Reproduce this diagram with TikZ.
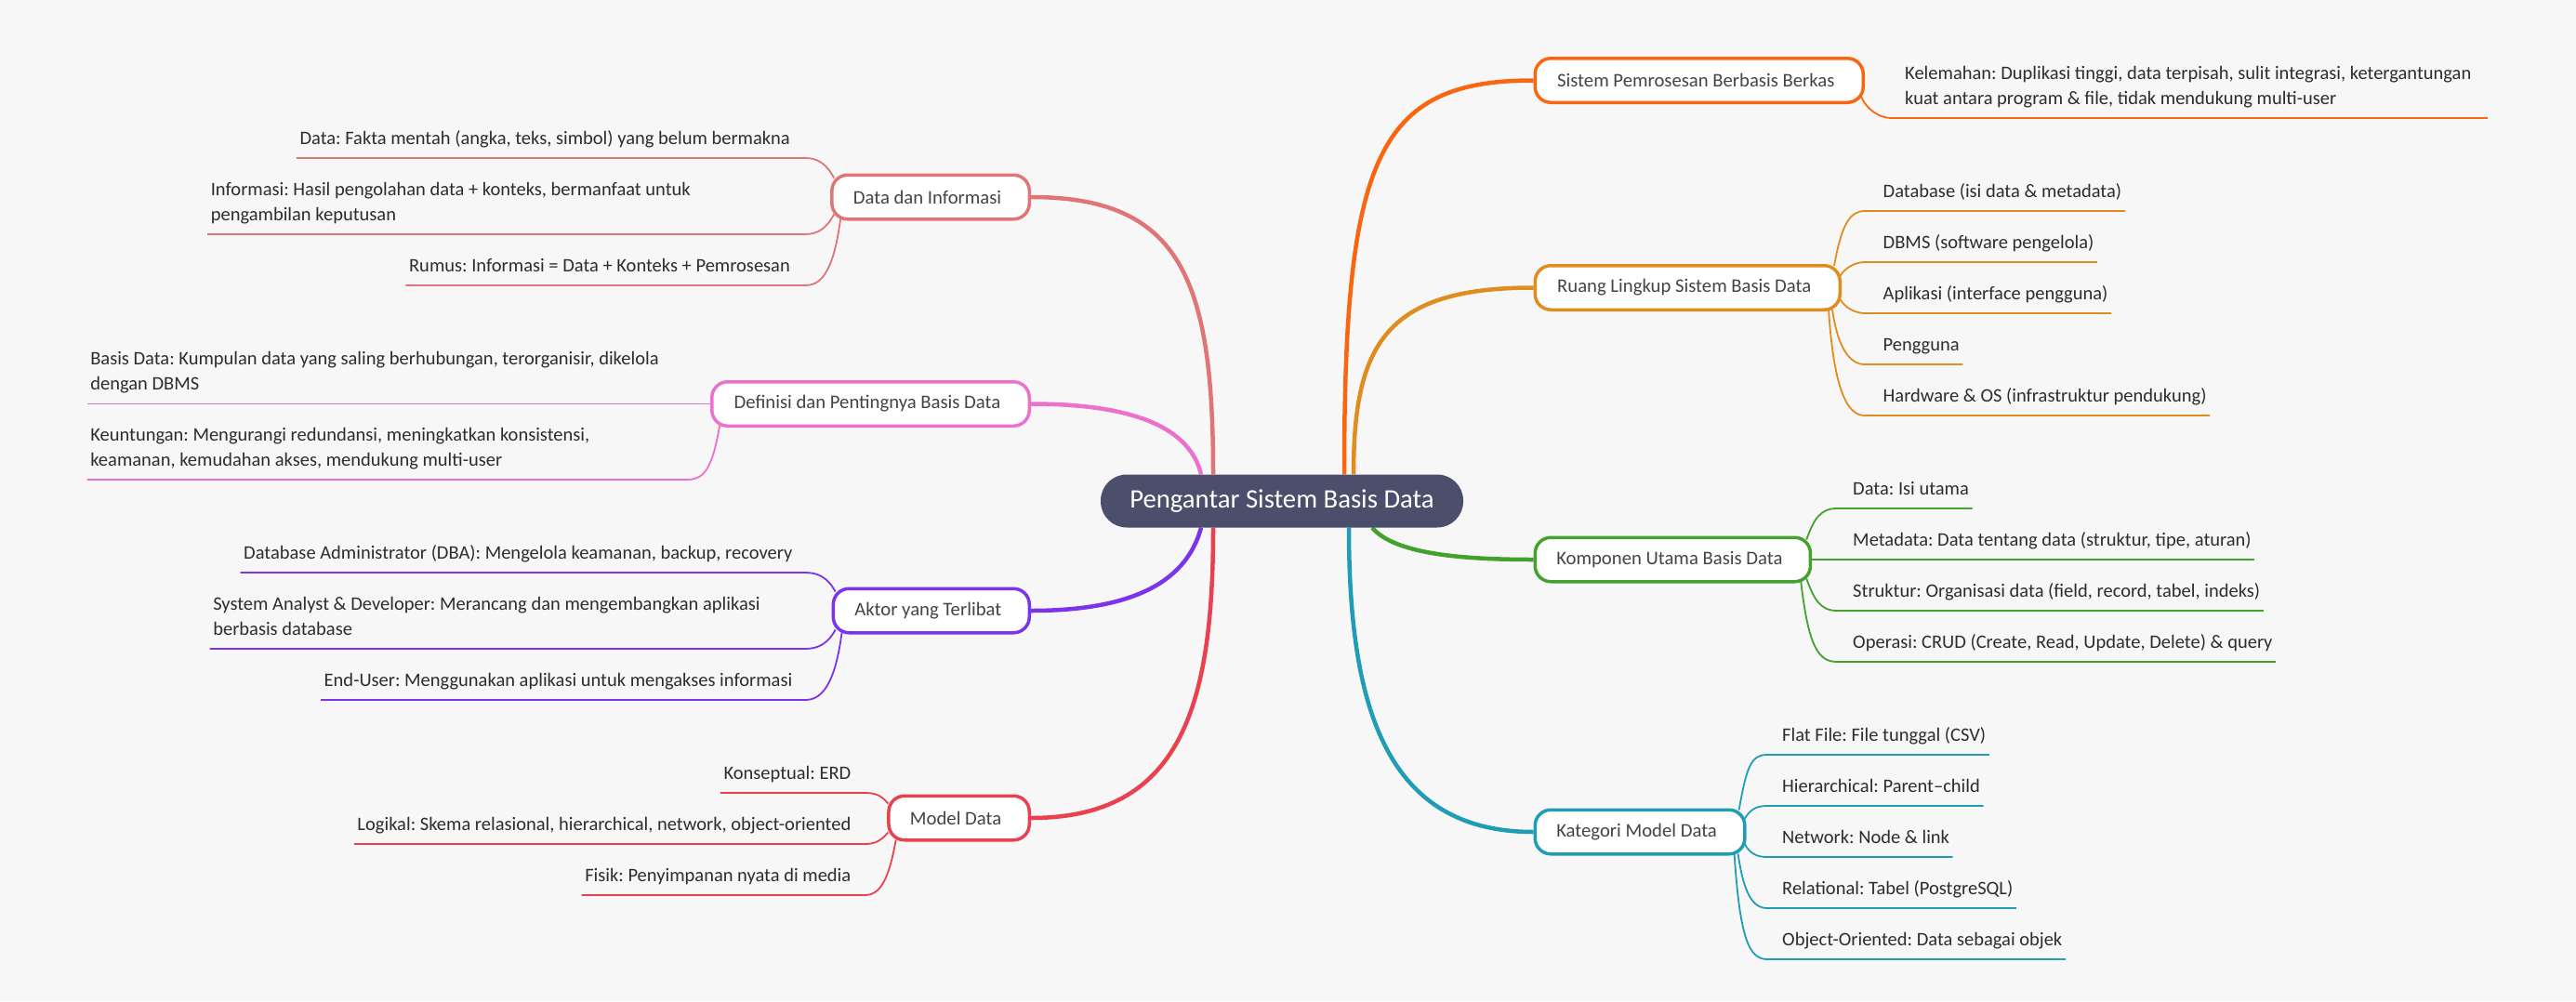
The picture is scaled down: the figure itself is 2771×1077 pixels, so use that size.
\documentclass[tikz,border=0pt]{standalone}
\usepackage{fontspec}
\setmainfont{Carlito}
\usetikzlibrary{backgrounds}
\definecolor{mybg}{RGB}{247,247,247}
\definecolor{myroot}{RGB}{76,79,107}
\definecolor{mytopictext}{RGB}{68,68,68}
\definecolor{myleaftext}{RGB}{45,45,45}
\definecolor{myorange}{RGB}{250,101,16}
\definecolor{myamber}{RGB}{224,140,31}
\definecolor{mygreen}{RGB}{67,161,46}
\definecolor{myteal}{RGB}{31,157,181}
\definecolor{mysalmon}{RGB}{224,117,117}
\definecolor{mypink}{RGB}{235,114,204}
\definecolor{mypurple}{RGB}{123,51,236}
\definecolor{myred}{RGB}{233,65,79}
\tikzset{
	rootnode/.style={fill=myroot, text=white, rounded corners=28pt, minimum height=57pt, minimum width=390pt, font=\fontsize{28.7}{36}\selectfont},
	topic/.style={draw=#1, fill=white, text=mytopictext, line width=3.5pt, rounded corners=17pt, minimum height=47.5pt, inner xsep=23pt, inner ysep=0pt, execute at end node={\hspace*{7pt}}, font=\fontsize{20.7}{27}\selectfont},
	leaf/.style={text=myleaftext, inner xsep=3.5pt, inner ysep=9.5pt, text depth=5pt, font=\fontsize{20.5}{27}\selectfont\frenchspacing},
	leafwide/.style={text=myleaftext, inner xsep=3.5pt, inner ysep=9.5pt, text width=623pt, align=flush left, font=\fontsize{20.5}{27}\selectfont\frenchspacing, execute at end node={\vrule width 0pt depth 5pt}},
	mainlink/.style={draw=#1, line width=4.5pt},
	leaflink/.style={draw=#1, line width=1.8pt}
}

\begin{document}
\begin{tikzpicture}[x=1pt, y=-1pt]
	\useasboundingbox (0,0) rectangle (2771,1077);

	% Draw the central node
	\node[rootnode] (root) at (1379,539) {Pengantar Sistem Basis Data};

	% Draw the topics on the right
	\node[topic=myorange, anchor=west, minimum width=353pt] (sistem) at (1649.5,86.5) {Sistem Pemrosesan Berbasis Berkas};
	\node[topic=myamber, anchor=west, minimum width=328pt] (ruang) at (1649.5,309.5) {Ruang Lingkup Sistem Basis Data};
	\node[topic=mygreen, anchor=west, minimum width=296pt] (komponen) at (1649.5,602) {Komponen Utama Basis Data};
	\node[topic=myteal, anchor=west, minimum width=220pt] (kategori) at (1649.5,895) {Kategori Model Data};

	% Draw the topics on the left
	\node[topic=mysalmon, anchor=east, minimum width=211.5pt] (dadan) at (1109,212) {Data dan Informasi};
	\node[topic=mypink, anchor=east, minimum width=341.5pt] (definisi) at (1109,434.5) {Definisi dan Pentingnya Basis Data};
	\node[topic=mypurple, anchor=east, minimum width=209.5pt] (aktor) at (1109,657) {Aktor yang Terlibat};
	\node[topic=myred, anchor=east, minimum width=146.5pt] (model) at (1109,880) {Model Data};

	% Label the leaves on the right
	\node[leafwide, anchor=south west] (kelemahan) at (2045.5,127) {Kelemahan: Duplikasi tinggi, data terpisah, sulit integrasi, ketergantungan\\kuat antara program \& file, tidak mendukung multi-user};

	\node[leaf, anchor=south west] (dbase) at (2022,227) {Database (isi data \& metadata)};
	\node[leaf, anchor=south west] (dbms) at (2022,282) {DBMS (software pengelola)};
	\node[leaf, anchor=south west] (aplikasi) at (2022,337) {Aplikasi (interface pengguna)};
	\node[leaf, anchor=south west] (pengguna) at (2022,392) {Pengguna};
	\node[leaf, anchor=south west] (hardware) at (2022,447) {Hardware \& OS (infrastruktur pendukung)};

	\node[leaf, anchor=south west] (isi) at (1989.5,547) {Data: Isi utama};
	\node[leaf, anchor=south west] (metadata) at (1989.5,602) {Metadata: Data tentang data (struktur, tipe, aturan)};
	\node[leaf, anchor=south west] (struktur) at (1989.5,657) {Struktur: Organisasi data (field, record, tabel, indeks)};
	\node[leaf, anchor=south west] (operasi) at (1989.5,712) {Operasi: CRUD (Create, Read, Update, Delete) \& query};

	\node[leaf, anchor=south west] (flat) at (1913.5,812) {Flat File: File tunggal (CSV)};
	\node[leaf, anchor=south west] (hier) at (1913.5,867) {Hierarchical: Parent–child};
	\node[leaf, anchor=south west] (network) at (1913.5,922) {Network: Node \& link};
	\node[leaf, anchor=south west] (relational) at (1913.5,977) {Relational: Tabel (PostgreSQL)};
	\node[leaf, anchor=south west] (objek) at (1913.5,1032) {Object-Oriented: Data sebagai objek};

	% Label the leaves on the left
	\node[leaf, anchor=south east] (fakta) at (853.5,170) {Data: Fakta mentah (angka, teks, simbol) yang belum bermakna};
	\node[leafwide, anchor=south east] (info) at (853.5,252) {Informasi: Hasil pengolahan data + konteks, bermanfaat untuk\\pengambilan keputusan};
	\node[leaf, anchor=south east] (rumus) at (853.5,307) {Rumus: Informasi = Data + Konteks + Pemrosesan};

	\node[leafwide, anchor=south east] (basis) at (724,434.5) {Basis Data: Kumpulan data yang saling berhubungan, terorganisir, dikelola\\dengan DBMS};
	\node[leafwide, anchor=south east] (untung) at (724,516) {Keuntungan: Mengurangi redundansi, meningkatkan konsistensi,\\keamanan, kemudahan akses, mendukung multi-user};

	\node[leaf, anchor=south east] (dba) at (856,616) {Database Administrator (DBA): Mengelola keamanan, backup, recovery};
	\node[leafwide, anchor=south east] (analyst) at (856,698) {System Analyst \& Developer: Merancang dan mengembangkan aplikasi\\berbasis database};
	\node[leaf, anchor=south east] (enduser) at (856,753) {End-User: Menggunakan aplikasi untuk mengakses informasi};

	\node[leaf, anchor=south east] (konsep) at (919,853) {Konseptual: ERD};
	\node[leaf, anchor=south east] (logikal) at (919,908) {Logikal: Skema relasional, hierarchical, network, object-oriented};
	\node[leaf, anchor=south east] (fisik) at (919,963) {Fisik: Penyimpanan nyata di media};

	\begin{scope}[on background layer]
		\fill[mybg] (0,0) rectangle (2771,1077);

		% Draw the thick curves from the central node
		\draw[mainlink=myorange] ([xshift=67pt]root.north) .. controls +(0,-340) and +(-169,0) .. (sistem.west);
		\draw[mainlink=myamber] ([xshift=77pt]root.north) .. controls +(0,-140) and +(-159,0) .. (ruang.west);
		\draw[mainlink=mygreen] ([xshift=97pt]root.south) .. controls +(24,28) and +(-79,0) .. (komponen.west);
		\draw[mainlink=myteal] ([xshift=72pt]root.south) .. controls +(0,193) and +(-159,0) .. (kategori.west);
		\draw[mainlink=mysalmon] ([xshift=-74pt]root.north) .. controls +(0,-210) and +(161,0) .. (dadan.east);
		\draw[mainlink=mypink] ([xshift=-87pt]root.north) .. controls +(-12,-50) and +(111,0) .. (definisi.east);
		\draw[mainlink=mypurple] ([xshift=-87pt]root.south) .. controls +(-17,63) and +(101,0) .. (aktor.east);
		\draw[mainlink=myred] ([xshift=-74pt]root.south) .. controls +(0,193) and +(161,0) .. (model.east);

		% Draw the thin curves and the lines under the leaves, right side
		\draw[leaflink=myorange] ([xshift=-4pt,yshift=8pt]sistem.south east) .. controls +(6,14) and +(-12,0) .. ([xshift=-11.5pt]kelemahan.south west) -- (kelemahan.south east);

		\draw[leaflink=myamber] ([xshift=-8pt,yshift=-2pt]ruang.north east) .. controls +(8,-45) and +(-16,0) .. ([xshift=-16pt]dbase.south west) -- (dbase.south east);
		\draw[leaflink=myamber] ([xshift=-2pt,yshift=12pt]ruang.east) .. controls +(6,-10) and +(-10,0) .. ([xshift=-16pt]dbms.south west) -- (dbms.south east);
		\draw[leaflink=myamber] ([xshift=-2pt,yshift=-12pt]ruang.east) .. controls +(6,10) and +(-10,0) .. ([xshift=-16pt]aplikasi.south west) -- (aplikasi.south east);
		\draw[leaflink=myamber] ([xshift=-10pt,yshift=2pt]ruang.south east) .. controls +(6,42) and +(-16,0) .. ([xshift=-16pt]pengguna.south west) -- (pengguna.south east);
		\draw[leaflink=myamber] ([xshift=-14pt,yshift=2pt]ruang.south east) .. controls +(6,90) and +(-18,0) .. ([xshift=-16pt]hardware.south west) -- (hardware.south east);

		\draw[leaflink=mygreen] ([xshift=-6pt,yshift=-4pt]komponen.north east) .. controls +(8,-22) and +(-18,0) .. ([xshift=-13.5pt]isi.south west) -- (isi.south east);
		\draw[leaflink=mygreen] (komponen.east) -- (metadata.south west) -- (metadata.south east);
		\draw[leaflink=mygreen] ([xshift=-6pt,yshift=5pt]komponen.south east) .. controls +(8,22) and +(-18,0) .. ([xshift=-13.5pt]struktur.south west) -- (struktur.south east);
		\draw[leaflink=mygreen] ([xshift=-12pt,yshift=2pt]komponen.south east) .. controls +(8,70) and +(-20,0) .. ([xshift=-13.5pt]operasi.south west) -- (operasi.south east);

		\draw[leaflink=myteal] ([xshift=-8pt,yshift=-2pt]kategori.north east) .. controls +(8,-45) and +(-18,0) .. ([xshift=-12.5pt]flat.south west) -- (flat.south east);
		\draw[leaflink=myteal] ([xshift=-2pt,yshift=14pt]kategori.east) .. controls +(6,-10) and +(-12,0) .. ([xshift=-12.5pt]hier.south west) -- (hier.south east);
		\draw[leaflink=myteal] ([xshift=-2pt,yshift=-13pt]kategori.east) .. controls +(6,10) and +(-12,0) .. ([xshift=-12.5pt]network.south west) -- (network.south east);
		\draw[leaflink=myteal] ([xshift=-9pt,yshift=2pt]kategori.south east) .. controls +(6,42) and +(-16,0) .. ([xshift=-12.5pt]relational.south west) -- (relational.south east);
		\draw[leaflink=myteal] ([xshift=-13pt,yshift=2pt]kategori.south east) .. controls +(6,90) and +(-20,0) .. ([xshift=-12.5pt]objek.south west) -- (objek.south east);

		% Draw the thin curves and the lines under the leaves, left side
		\draw[leaflink=mysalmon] ([xshift=4pt,yshift=-5pt]dadan.north west) .. controls +(-8,-15) and +(14,0) .. ([xshift=12.5pt]fakta.south east) -- (fakta.south west);
		\draw[leaflink=mysalmon] ([xshift=4pt,yshift=7pt]dadan.south west) .. controls +(-8,15) and +(14,0) .. ([xshift=12.5pt]info.south east) -- (info.south west);
		\draw[leaflink=mysalmon] ([xshift=11pt,yshift=2pt]dadan.south west) .. controls +(-8,60) and +(16,0) .. ([xshift=12.5pt]rumus.south east) -- (rumus.south west);

		\draw[leaflink=mypink] (definisi.west) -- (basis.south east) -- (basis.south west);
		\draw[leaflink=mypink] ([xshift=10pt,yshift=2pt]definisi.south west) .. controls +(-8,50) and +(16,0) .. ([xshift=15pt]untung.south east) -- (untung.south west);

		\draw[leaflink=mypurple] ([xshift=4pt,yshift=-5pt]aktor.north west) .. controls +(-8,-15) and +(14,0) .. ([xshift=10pt]dba.south east) -- (dba.south west);
		\draw[leaflink=mypurple] ([xshift=4pt,yshift=5pt]aktor.south west) .. controls +(-8,15) and +(14,0) .. ([xshift=10pt]analyst.south east) -- (analyst.south west);
		\draw[leaflink=mypurple] ([xshift=11pt,yshift=2pt]aktor.south west) .. controls +(-8,60) and +(16,0) .. ([xshift=10pt]enduser.south east) -- (enduser.south west);

		\draw[leaflink=myred] ([xshift=1pt,yshift=-10pt]model.north west) .. controls +(-8,-10) and +(10,0) .. ([xshift=11pt]konsep.south east) -- (konsep.south west);
		\draw[leaflink=myred] ([xshift=1pt,yshift=10pt]model.south west) .. controls +(-8,10) and +(10,0) .. ([xshift=11pt]logikal.south east) -- (logikal.south west);
		\draw[leaflink=myred] ([xshift=9.5pt,yshift=2pt]model.south west) .. controls +(-8,45) and +(16,0) .. ([xshift=11pt]fisik.south east) -- (fisik.south west);
	\end{scope}
\end{tikzpicture}
\end{document}
